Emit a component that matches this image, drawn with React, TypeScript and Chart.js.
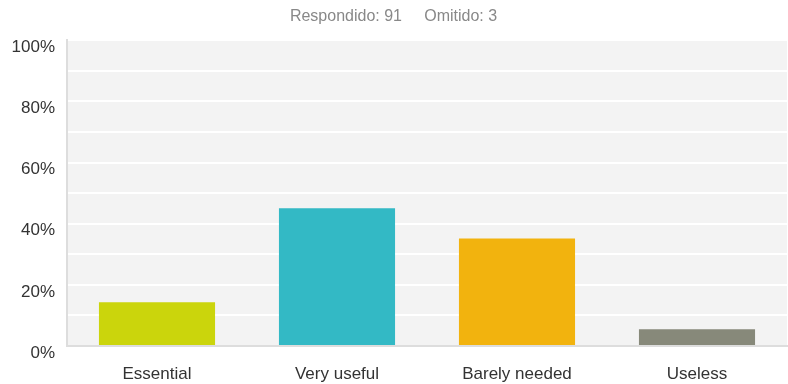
import React, { useEffect, useRef } from "react";
import { Chart, registerables } from "chart.js";

Chart.register(...registerables);

// Survey answers, share of respondents (%)
const categories = ["Essential", "Very useful", "Barely needed", "Useless"];
const respondents = [13, 41, 32, 5];
const answered = 91;
const skipped = 3;
const percentages = respondents.map((n) => (n / answered) * 100);
const barColors = ["#cbd50c", "#33b9c5", "#f2b30e", "#87897a"];
const yTickValues = [0, 20, 40, 60, 80, 100];

const FONT = "'Helvetica Neue', Helvetica, Arial, 'Liberation Sans', sans-serif";

// Paints the light gray panel behind the bars
const plotBackground = {
  id: "plotBackground",
  beforeDraw(chart: any) {
    const { ctx, chartArea } = chart;
    if (!chartArea) return;
    ctx.save();
    ctx.fillStyle = "#f3f3f3";
    ctx.fillRect(chartArea.left, chartArea.top, chartArea.right - chartArea.left, chartArea.bottom - chartArea.top);
    ctx.restore();
  },
};

export default function App() {
  const canvasRef = useRef<HTMLCanvasElement | null>(null);

  useEffect(() => {
    if (!canvasRef.current) return;
    const chart = new Chart(canvasRef.current, {
      type: "bar",
      data: {
        labels: categories,
        datasets: [
          {
            data: percentages,
            backgroundColor: barColors,
            borderWidth: 0,
            barPercentage: 0.645,
            categoryPercentage: 1,
          },
        ],
      },
      options: {
        responsive: false,
        animation: false,
        layout: { padding: { left: 0, right: 1, top: 0, bottom: 0 } },
        plugins: {
          legend: { display: false },
          tooltip: { enabled: false },
          title: {
            display: true,
            text: `Respondido: ${answered}     Omitido: ${skipped}`,
            color: "#888888",
            font: { family: FONT, size: 16, weight: "normal" },
            padding: { top: 7, bottom: 14 },
          },
        },
        scales: {
          x: {
            afterFit(scale: any) {
              scale.height = 38;
            },
            grid: { display: false, drawTicks: false },
            border: { display: true, color: "#dddddd", width: 2 },
            ticks: {
              color: "#333333",
              font: { family: FONT, size: 17 },
              padding: 18,
              maxRotation: 0,
            },
          },
          y: {
            min: 0,
            max: 100,
            afterFit(scale: any) {
              scale.width = 67;
            },
            grid: { color: "#ffffff", lineWidth: 2, drawTicks: false },
            border: { display: true, color: "#dddddd", width: 2 },
            ticks: {
              stepSize: 10,
              padding: 12,
              labelOffset: 7,
              color: "#333333",
              font: { family: FONT, size: 17 },
              callback: (v: any) => (yTickValues.includes(Number(v)) ? `${v}%` : ""),
            },
          },
        },
      },
      plugins: [plotBackground],
    });
    return () => chart.destroy();
  }, []);

  return (
    <div style={{ position: "absolute", left: 0, top: 0, width: 788, height: 384, background: "#ffffff" }}>
      <canvas ref={canvasRef} width={788} height={384} />
    </div>
  );
}
